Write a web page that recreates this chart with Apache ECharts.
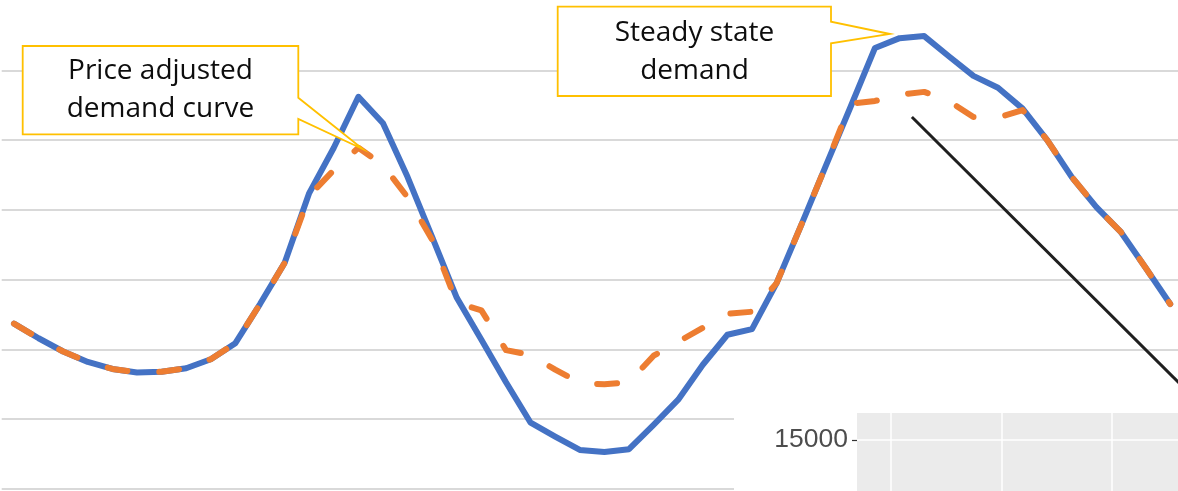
<!DOCTYPE html>
<html>
<head>
<meta charset="utf-8">
<script src="https://cdn.jsdelivr.net/npm/echarts@6/dist/echarts.min.js"></script>
<style>
html,body{margin:0;padding:0;background:#ffffff;}
#chart{width:1178px;height:491px;}
</style>
</head>
<body>
<div id="chart"></div>
<script>
// Half-hour periods of the day
const periods = [1,2,3,4,5,6,7,8,9,10,11,12,13,14,15,16,17,18,19,20,21,22,23,24,
                 25,26,27,28,29,30,31,32,33,34,35,36,37,38,39,40,41,42,43,44,45,46,47,48];

// Steady state demand (blue, solid)
const steadyState = [18370,18160,17970,17820,17720,17670,17680,17730,17860,18090,18650,19240,
                     20240,20890,21620,21240,20470,19610,18740,18140,17530,16950,16750,16560,
                     16530,16570,16920,17280,17780,18210,18290,18950,19780,20630,21470,22320,
                     22460,22490,22200,21920,21750,21450,21000,20470,20040,19680,19170,18650];

// Price adjusted demand curve (orange, dashed)
const priceAdjusted = [18370,18160,17970,17820,17720,17670,17680,17730,17860,18090,18650,19240,
                       20200,20570,20890,20640,20180,19570,18670,18560,17990,17920,17710,17520,
                       17500,17530,17910,18110,18310,18510,18540,18950,19780,20630,21520,21560,
                       21650,21690,21560,21330,21320,21430,21000,20470,20040,19680,19170,18650];

// Main value axis range (gridlines every 1000)
const yMin = 16000, yMax = 23150, yStep = 1000;

// Black diagonal annotation line (period, value)
const diagonalFrom = [37.5, 21330];
const diagonalTo = [48.45, 17490];

// Inset panel (pasted fragment) axis
const insetTickLabels = [15000];
const insetYMin = 14000, insetYMax = 15270, insetYStep = 1000;
const insetXMin = 0, insetXMax = 3.08;
const insetXLines = [0.31, 1.31, 2.31];

// Callout texts
const calloutTexts = ['Price adjusted\ndemand curve', 'Steady state\ndemand'];

const chart = echarts.init(document.getElementById('chart'), null, {renderer: 'canvas'});

const option = {
  animation: false,
  backgroundColor: '#ffffff',
  grid: [
    {left: 1.7, top: -10, width: 1180.8, height: 499, show: false, z: 0,
     outerBoundsMode: 'none', containLabel: false},
    {left: 857, top: 413, width: 340, height: 127, show: true,
     backgroundColor: '#EBEBEB', borderWidth: 0, z: 3,
     outerBoundsMode: 'none', containLabel: false}
  ],
  xAxis: [
    {type: 'value', gridIndex: 0, min: 0.5, max: 48.5,
     axisLine: {show: false}, axisTick: {show: false}, axisLabel: {show: false},
     splitLine: {show: false}},
    {type: 'value', gridIndex: 1, min: insetXMin, max: insetXMax, z: 3,
     axisLine: {show: false}, axisTick: {show: false}, axisLabel: {show: false},
     splitLine: {show: false}}
  ],
  yAxis: [
    {type: 'value', gridIndex: 0, min: yMin, max: yMax, interval: yStep, z: 0,
     axisLine: {show: false}, axisTick: {show: false}, axisLabel: {show: false},
     splitLine: {show: true, lineStyle: {color: '#D9D9D9', width: 2}}},
    {type: 'value', gridIndex: 1, min: insetYMin, max: insetYMax, interval: insetYStep, z: 3,
     axisLine: {show: false},
     axisTick: {show: true, length: 5, customValues: insetTickLabels,
                lineStyle: {color: '#333333', width: 1.2}},
     axisLabel: {show: true, customValues: insetTickLabels, margin: 9,
                 fontSize: 26.5, color: '#4D4D4D', fontFamily: 'Liberation Sans',
                 showMaxLabel: false,
                 formatter: v => insetTickLabels.includes(v) ? String(v) : ''},
     splitLine: {show: true, lineStyle: {color: '#FFFFFF', width: 1.5}}}
  ],
  series: [
    {
      name: 'Steady state demand', type: 'line', xAxisIndex: 0, yAxisIndex: 0,
      data: periods.map((p, i) => [p, steadyState[i]]),
      symbol: 'none', smooth: false, z: 5,
      lineStyle: {color: '#4472C4', width: 6, join: 'round', cap: 'round'}
    },
    {
      name: 'Price adjusted demand curve', type: 'line', xAxisIndex: 0, yAxisIndex: 0,
      data: periods.map((p, i) => [p, priceAdjusted[i]]),
      symbol: 'none', smooth: false, z: 6,
      lineStyle: {color: '#ED7D31', width: 6, type: [20, 32], cap: 'round', join: 'round'},
      markLine: {
        silent: true, symbol: ['none', 'none'], label: {show: false}, animation: false,
        lineStyle: {color: '#1F1F1F', width: 3, type: 'solid'},
        data: [[{coord: diagonalFrom}, {coord: diagonalTo}]]
      }
    },
    {
      name: 'inset', type: 'line', xAxisIndex: 1, yAxisIndex: 1, data: [], z: 4,
      symbol: 'none',
      markLine: {
        silent: true, symbol: ['none', 'none'], label: {show: false}, animation: false,
        lineStyle: {color: '#FFFFFF', width: 1.5, type: 'solid'},
        data: insetXLines.map(v => ({xAxis: v}))
      }
    }
  ],
  graphic: {
    elements: [
      // white areas where the cropped picture shows no gridlines
      {type: 'rect', z: 1, silent: true,
       shape: {x: 734, y: 395, width: 444, height: 96},
       style: {fill: '#FFFFFF'}},
      {type: 'rect', z: 1, silent: true,
       shape: {x: 0, y: 0, width: 1178, height: 2.5},
       style: {fill: '#FFFFFF'}},
      {type: 'polygon', z: 10, silent: true,
       shape: {points: [[22.7,46],[298.3,46],[298.3,97.7],[362.7,149],[298.3,119],[298.3,134.3],[22.7,134.3]]},
       style: {fill: '#FFFFFF', stroke: '#FFC000', lineWidth: 1.8}},
      {type: 'text', z: 11, silent: true,
       style: {text: calloutTexts[0], x: 160.5, y: 90, align: 'center', verticalAlign: 'middle',
               fontSize: 28, fontFamily: 'Open Sans', lineHeight: 38, fill: '#0D0D0D'}},
      {type: 'polygon', z: 10, silent: true,
       shape: {points: [[557.7,6.7],[831,6.7],[831,21.7],[890,34],[831,43.3],[831,96],[557.7,96]]},
       style: {fill: '#FFFFFF', stroke: '#FFC000', lineWidth: 1.8}},
      {type: 'text', z: 11, silent: true,
       style: {text: calloutTexts[1], x: 694.5, y: 52, align: 'center', verticalAlign: 'middle',
               fontSize: 28, fontFamily: 'Open Sans', lineHeight: 38, fill: '#0D0D0D'}}
    ]
  }
};

chart.setOption(option);
</script>
</body>
</html>
